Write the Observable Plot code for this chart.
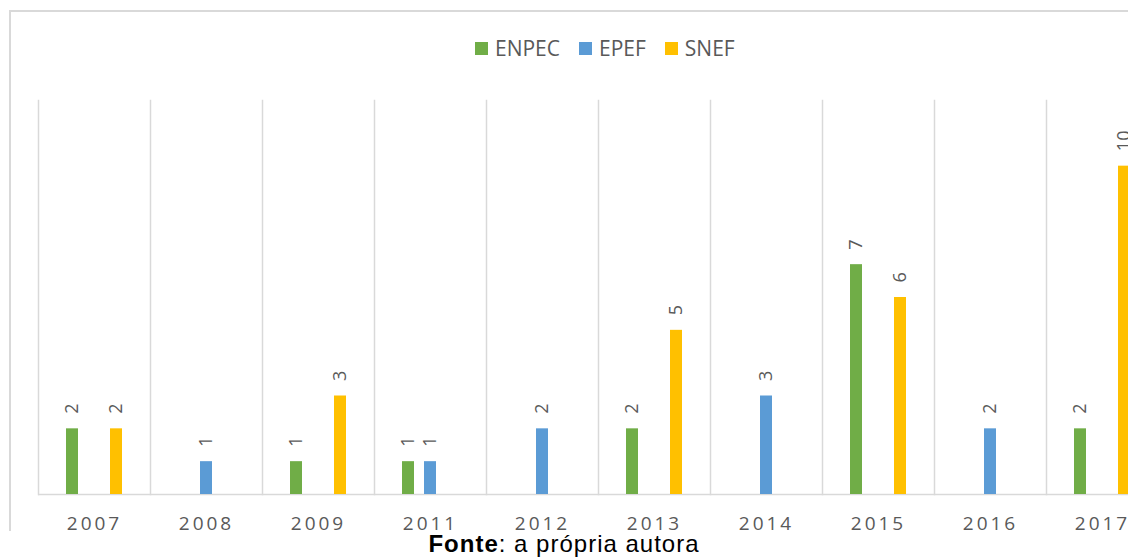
<!DOCTYPE html>
<html><head><meta charset="utf-8">
<script src="https://cdn.jsdelivr.net/npm/d3@7"></script>
<script src="https://cdn.jsdelivr.net/npm/@observablehq/plot@0.6"></script>
<style>
html,body{margin:0;padding:0;width:1128px;height:559px;overflow:hidden;background:#fff;}
#frame{position:absolute;left:9px;top:10px;width:1400px;height:519px;border-top:2px solid #d9d9d9;border-left:2px solid #d9d9d9;}
#chart{position:absolute;left:0;top:0;}
#chart svg{max-width:none !important;background:transparent;}
#chart g[aria-label="fx-axis tick label"] text{letter-spacing:3px;}
#legend{position:absolute;left:475px;top:33px;display:flex;align-items:center;font-family:"Open Sans";font-size:21px;color:#595959;line-height:30px;}
#legend .sw{display:inline-block;width:13px;height:13px;margin-right:7px;}
#legend .it{display:flex;align-items:center;margin-right:19px;}
#caption{position:absolute;left:0;width:1128px;top:530px;text-align:center;font-family:"Liberation Sans",Arial,sans-serif;font-size:24px;letter-spacing:1px;color:#000;line-height:28px;}
</style></head>
<body>
<div id="frame"></div>
<div id="chart"></div>
<div id="legend"></div>
<div id="caption"><b>Fonte</b>: a própria autora</div>
<script>
const years = ["2007","2008","2009","2011","2012","2013","2014","2015","2016","2017"];
const series = ["ENPEC","EPEF","SNEF"];
const enpec = [2,0,1,1,0,2,0,7,0,2];
const epef  = [0,1,0,1,2,0,3,0,2,0];
const snef  = [2,0,3,0,0,5,0,6,0,10];
const colors = ["#70AD47","#5B9BD5","#FFC000"];

const values = {ENPEC: enpec, EPEF: epef, SNEF: snef};
const data = years.flatMap((y, i) => series.map(s => ({year: y, series: s, value: values[s][i]})))
  .filter(d => d.value > 0);

const plot = Plot.plot({
  width: 1158, height: 540,
  marginLeft: 38, marginRight: 0, marginTop: 100, marginBottom: 46,
  style: {background: "transparent", maxWidth: "none", fontFamily: "Open Sans"},
  fx: {domain: years, padding: 0, label: null},
  x: {domain: series, paddingInner: 0.467, paddingOuter: 1.222, axis: null},
  y: {domain: [0, 12], axis: null},
  color: {domain: series, range: colors},
  marks: [
    Plot.frame({anchor: "left", stroke: "#d9d9d9", strokeWidth: 1.5}),
    Plot.ruleY([0], {stroke: "#d9d9d9", strokeWidth: 1.5}),
    Plot.barY(data, {fx: "year", x: "series", y: "value", fill: "series"}),
    Plot.text(data, {fx: "year", x: "series", y: "value", text: d => String(d.value),
      rotate: -90, textAnchor: "start", dy: -15, fill: "#595959", fontSize: 18}),
    Plot.axisFx({anchor: "bottom", tickSize: 0, tickPadding: 22, fontSize: 19, fill: "#595959", label: null})
  ]
});
document.getElementById("chart").appendChild(plot);

const legend = document.getElementById("legend");
series.forEach((s, i) => {
  const it = document.createElement("span");
  it.className = "it";
  it.innerHTML = `<span class="sw" style="background:${colors[i]}"></span>${s}`;
  legend.appendChild(it);
});
</script>
</body></html>
